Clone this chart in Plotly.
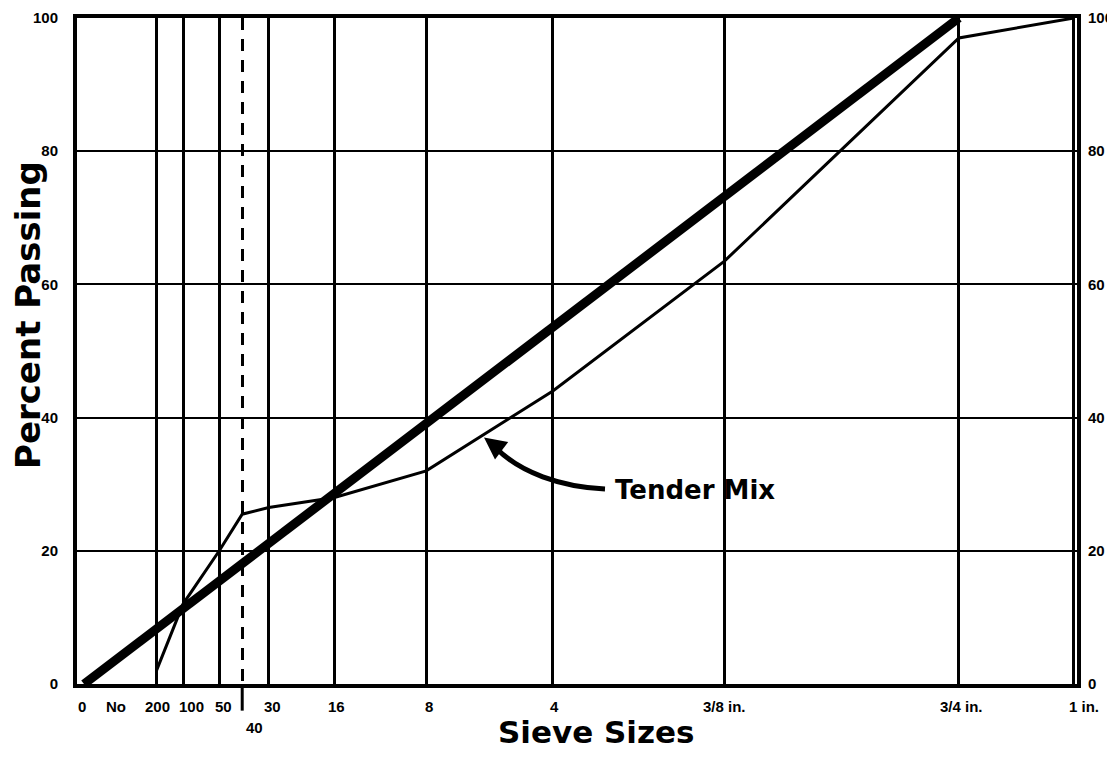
import plotly.graph_objects as go

# ---------------- data ----------------
sieve_names = ["No. 200", "No. 100", "No. 50", "No. 40", "No. 30", "No. 16",
               "No. 8", "No. 4", "3/8 in.", "3/4 in.", "1 in."]
sieve_mm = [0.075, 0.15, 0.3, 0.425, 0.6, 1.18, 2.36, 4.75, 9.5, 19.0, 25.0]
sieve_tick_text = ["200", "100", "50", "40", "30", "16", "8", "4",
                   "3/8 in.", "3/4 in.", "1 in."]
tender_mix_pct = [2, 12, 20, 25.5, 26.5, 28, 32, 44, 63.5, 97, 100]
max_density_mm = [0.0, 19.0]
max_density_pct = [0, 100]
y_ticks = [0, 20, 40, 60, 80, 100]

POWER = 0.45  # 0.45 power gradation chart scale


def pos(mm):
    return mm ** POWER


sieve_x = [pos(v) for v in sieve_mm]
dashed_idx = sieve_names.index("No. 40")
solid_x = [x for i, x in enumerate(sieve_x) if i != dashed_idx]

FONT = "DejaVu Sans"
TFONT = "Liberation Sans"
fig = go.Figure()

# maximum density line
fig.add_trace(go.Scatter(
    x=[pos(v) for v in max_density_mm], y=max_density_pct, mode="lines",
    line=dict(color="black", width=9), showlegend=False, hoverinfo="skip"))

# tender mix gradation
fig.add_trace(go.Scatter(
    x=sieve_x, y=tender_mix_pct, mode="lines",
    line=dict(color="black", width=3), showlegend=False, hoverinfo="skip"))

# invisible trace for the right axis
fig.add_trace(go.Scatter(x=[sieve_x[0]], y=[0], yaxis="y2", mode="markers",
                         marker=dict(opacity=0), showlegend=False,
                         hoverinfo="skip"))

xr = [-0.03, 4.27]
tick_font = dict(family=TFONT, size=15, color="black", weight="bold")

# page has an 8px body margin: figure is drawn 8px in from the top-left
fig.update_layout(
    width=1107, height=750,
    margin=dict(l=69, r=38, t=10, b=74),
    paper_bgcolor="white", plot_bgcolor="white",
    xaxis=dict(range=xr, tickvals=solid_x, showticklabels=False, ticks="",
               automargin=False,
               showgrid=True, gridcolor="black", gridwidth=3,
               zeroline=False, showline=True, linecolor="black",
               linewidth=4, mirror=True,
               minor=dict(tickvals=[sieve_x[dashed_idx]], showgrid=True,
                          gridcolor="black", gridwidth=3,
                          griddash="12px,9px", ticks="")),
    yaxis=dict(range=[0, 100], tickvals=y_ticks, automargin=False,
               ticktext=[str(v) for v in y_ticks], tickfont=tick_font,
               ticks="", ticklabelstandoff=12, showgrid=True,
               gridcolor="black", gridwidth=2, zeroline=False,
               showline=True, linecolor="black", linewidth=4, mirror=True),
    yaxis2=dict(range=[0, 100], overlaying="y", side="right",
                automargin=False,
                tickvals=y_ticks, ticktext=[str(v) for v in y_ticks],
                tickfont=tick_font, ticks="", ticklabelstandoff=10,
                showgrid=False, zeroline=False, showline=False),
)

# bottom tick labels
label_shift = [1, 8, 4, 12, 4, 2, 3, 2, 0, 3, 10]
ann = []
ann.append(dict(x=0, y=-0.034, xref="x", yref="paper", text="0",
                showarrow=False, font=tick_font, xanchor="center",
                yanchor="middle", xshift=-2))
for i, (x, t) in enumerate(zip(sieve_x, sieve_tick_text)):
    yv = -0.066 if i == dashed_idx else -0.034
    ann.append(dict(x=x, y=yv, xref="x", yref="paper", text=t,
                    showarrow=False, font=tick_font, xanchor="center",
                    yanchor="middle", xshift=label_shift[i]))
ann.append(dict(x=sieve_x[0], y=-0.034, xref="x", yref="paper", text="No",
                showarrow=False, font=tick_font, xanchor="center",
                yanchor="middle", xshift=-40))

# axis titles
ann.append(dict(x=0.519, y=-0.072, xref="paper", yref="paper",
                text="Sieve Sizes", showarrow=False,
                font=dict(family=FONT, size=31, color="black", weight="bold"),
                xanchor="center", yanchor="middle"))
ann.append(dict(x=-0.049, y=0.554, xref="paper", yref="paper",
                text="Percent Passing", showarrow=False, textangle=-90,
                font=dict(family=FONT, size=34, color="black", weight="bold"),
                xanchor="center", yanchor="middle", borderpad=0))

# Tender Mix label + arrow
ann.append(dict(x=0.536, y=0.291, xref="paper", yref="paper",
                text="Tender Mix", showarrow=False,
                font=dict(family=FONT, size=26, color="black", weight="bold"),
                xanchor="left", yanchor="middle"))
ann.append(dict(x=1.72, y=37.0, xref="x", yref="y", text="",
                showarrow=True, arrowhead=2, arrowsize=1.1, arrowwidth=4,
                arrowcolor="black", ax=16, ay=12))
fig.update_layout(annotations=ann)


# curved arrow shaft (paper coords; plot area spans 1000 x 666 px)
def P(px, py):
    return (px - 77) / 1000.0, (684 - py) / 666.0


s = P(605, 489); c1 = P(560, 487); c2 = P(520, 472); e = P(497, 449)
fig.add_shape(type="path", xref="paper", yref="paper",
              path=f"M {s[0]},{s[1]} C {c1[0]},{c1[1]} {c2[0]},{c2[1]} {e[0]},{e[1]}",
              line=dict(color="black", width=5))

# short tick below the axis for No. 40
fig.add_shape(type="line", xref="x", yref="paper",
              x0=sieve_x[dashed_idx], x1=sieve_x[dashed_idx], y0=0, y1=-0.04,
              line=dict(color="black", width=3))

fig.write_html("out.html")
